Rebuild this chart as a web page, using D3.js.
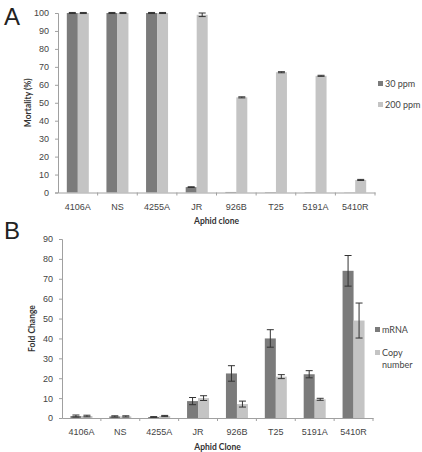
<!DOCTYPE html>
<html>
<head>
<meta charset="utf-8">
<script src="https://cdn.jsdelivr.net/npm/d3@7"></script>
<style>
  body { margin: 0; background: #fff; }
  svg { font-family: Lato, "Open Sans", sans-serif; }
  .tick text { fill: #444; font-size: 9px; }
  .domain, .tick line { stroke: #a0a0a0; }
</style>
</head>
<body>
<script>
//chart data
var clones = ['4106A', 'NS', '4255A', 'JR', '926B', 'T25', '5191A', '5410R'];

//panel A: mortality (%)
var mort30 = [100, 100, 100, 3, 0.3, 0.2, 0.2, 0.1];
var mort30Err = [0.3, 0.3, 0.3, 0.2, 0, 0, 0, 0];
var mort200 = [100, 100, 100, 99, 53, 67, 65, 7];
var mort200Err = [0.3, 0.3, 0.3, 1, 0.3, 0.3, 0.3, 0.3];
var ticksA = [0, 10, 20, 30, 40, 50, 60, 70, 80, 90, 100];

//panel B: fold change
var mrna = [1.0, 0.8, 0.5, 8.5, 22.4, 40, 22, 74];
var mrnaErr = [0.5, 0.3, 0.2, 1.8, 3.9, 4.4, 1.8, 7.7];
var copyNum = [1.0, 0.8, 1.0, 10, 7, 20.8, 9.4, 49];
var copyErr = [0.4, 0.3, 0.3, 1.2, 1.5, 1.0, 0.5, 8.8];
var ticksB = [0, 10, 20, 30, 40, 50, 60, 70, 80, 90];

var dark = '#7b7b7b', light = '#c4c4c4';

var svg = d3.select('body').append('svg')
    .attr('width', 422)
    .attr('height', 452);

//draws one bar panel with two series
function drawPanel(opt) {
    var x = d3.scaleBand()
        .domain(clones)
        .range([opt.left, opt.right]);

    var y = d3.scaleLinear()
        .domain([0, opt.max])
        .range([opt.bottom, opt.top]);

    var g = svg.append('g');

    //bars for each series
    var barW = 11;
    opt.series.forEach(function (s, si) {
        g.selectAll('.bar' + si)
            .data(s.values)
            .enter()
            .append('rect')
            .attr('x', function (d, i) { return x(clones[i]) + x.bandwidth() / 2 - barW + si * barW; })
            .attr('y', function (d) { return y(d); })
            .attr('width', barW)
            .attr('height', function (d) { return y(0) - y(d); })
            .attr('fill', s.color);

        //error bars
        var eb = g.selectAll('.err' + si)
            .data(s.values)
            .enter()
            .append('g')
            .filter(function (d, i) { return s.err[i] > 0; });
        var cx = function (d, i) { return x(clones[i]) + x.bandwidth() / 2 - barW / 2 + si * barW; };
        eb.append('line')
            .attr('x1', function (d, i) { return x(clones[i]) + x.bandwidth() / 2 - barW / 2 + si * barW; })
            .attr('x2', function (d, i) { return x(clones[i]) + x.bandwidth() / 2 - barW / 2 + si * barW; })
            .attr('y1', function (d, i) { return y(d + s.err[i]); })
            .attr('y2', function (d, i) { return y(Math.max(0, d - s.err[i])); })
            .attr('stroke', '#333').attr('stroke-width', 1);
        [1, -1].forEach(function (sign) {
            eb.append('line')
                .attr('x1', function (d, i) { return x(clones[i]) + x.bandwidth() / 2 - barW / 2 + si * barW - 3.5; })
                .attr('x2', function (d, i) { return x(clones[i]) + x.bandwidth() / 2 - barW / 2 + si * barW + 3.5; })
                .attr('y1', function (d, i) { return y(Math.max(0, d + sign * s.err[i])); })
                .attr('y2', function (d, i) { return y(Math.max(0, d + sign * s.err[i])); })
                .attr('stroke', '#333').attr('stroke-width', 1);
        });
    });

    //y axis
    var yAxis = d3.axisLeft(y)
        .tickValues(opt.ticks)
        .tickSize(3)
        .tickPadding(6);
    g.append('g')
        .attr('transform', 'translate(' + opt.left + ',0)')
        .call(yAxis);

    //x axis with ticks between categories
    var xAxis = g.append('g')
        .attr('transform', 'translate(0,' + opt.bottom + ')')
        .call(d3.axisBottom(x).tickSize(0).tickPadding(11));
    xAxis.selectAll('.tick')
        .append('line')
        .attr('x1', x.bandwidth() / 2)
        .attr('x2', x.bandwidth() / 2)
        .attr('y2', 3);

    //axis titles
    g.append('text')
        .attr('transform', 'translate(' + opt.yTitleX + ',' + ((opt.top + opt.bottom) / 2) + ') rotate(-90)')
        .attr('text-anchor', 'middle')
        .attr('font-size', 8.5)
        .attr('font-weight', 'bold')
        .attr('fill', '#333')
        .text(opt.yTitle);
    g.append('text')
        .attr('x', (opt.left + opt.right) / 2)
        .attr('y', opt.xTitleY)
        .attr('text-anchor', 'middle')
        .attr('font-size', 8.5)
        .attr('font-weight', 'bold')
        .attr('fill', '#333')
        .text(opt.xTitle);

    //panel letter
    g.append('text')
        .attr('x', 4)
        .attr('y', opt.letterY)
        .attr('font-size', 24)
        .attr('font-family', '"Liberation Sans", sans-serif')
        .attr('fill', '#222')
        .text(opt.letter);

    //legend
    opt.series.forEach(function (s, si) {
        g.append('rect')
            .attr('x', opt.legendX)
            .attr('y', opt.legendY[si] - 3)
            .attr('width', 5)
            .attr('height', 5)
            .attr('fill', s.color);
        s.label.forEach(function (ln, li) {
            g.append('text')
                .attr('x', opt.legendX + 7)
                .attr('y', opt.legendY[si] + 3 + li * 12)
                .attr('font-size', 9)
                .attr('fill', '#444')
                .text(ln);
        });
    });
}

drawPanel({
    letter: 'A', letterY: 25,
    left: 58, right: 375, top: 13, bottom: 192.5, max: 100, ticks: ticksA,
    series: [
        { values: mort30, err: mort30Err, color: dark, label: ['30 ppm'] },
        { values: mort200, err: mort200Err, color: light, label: ['200 ppm'] }
    ],
    yTitle: 'Mortality (%)', yTitleX: 31,
    xTitle: 'Aphid clone', xTitleY: 224,
    legendX: 378, legendY: [84, 105]
});

drawPanel({
    letter: 'B', letterY: 239,
    left: 62, right: 373, top: 239, bottom: 418, max: 90, ticks: ticksB,
    series: [
        { values: mrna, err: mrnaErr, color: dark, label: ['mRNA'] },
        { values: copyNum, err: copyErr, color: light, label: ['Copy', 'number'] }
    ],
    yTitle: 'Fold Change', yTitleX: 35,
    xTitle: 'Aphid Clone', xTitleY: 450,
    legendX: 375, legendY: [330, 353]
});
</script>
</body>
</html>
